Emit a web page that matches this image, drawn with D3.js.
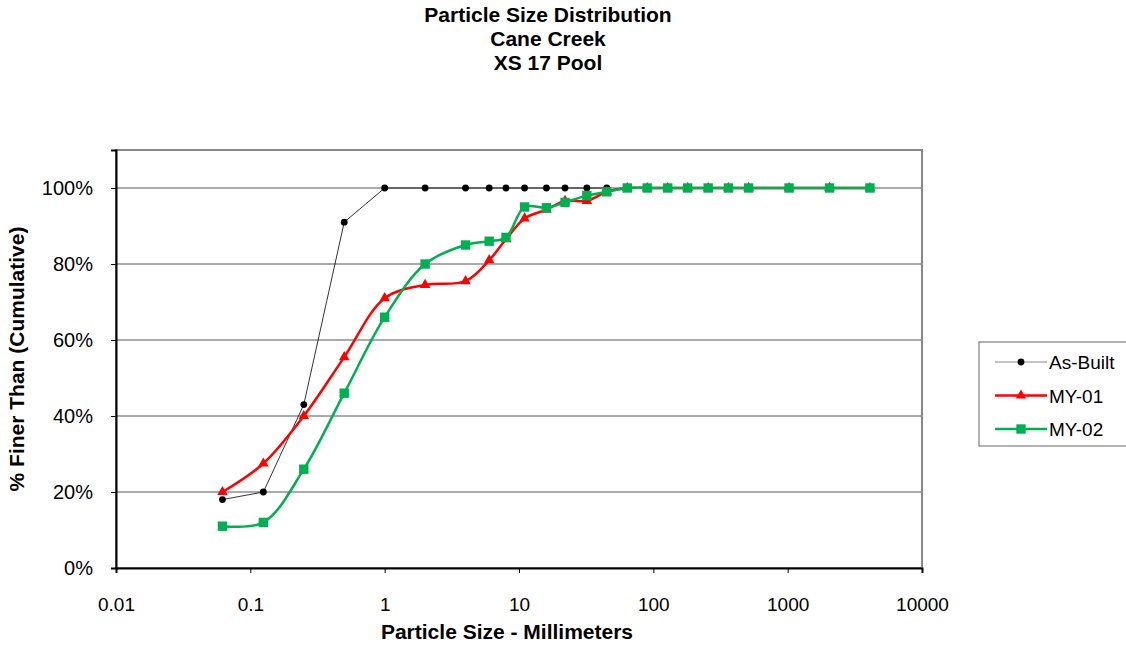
<!DOCTYPE html>
<html>
<head>
<meta charset="utf-8">
<script src="https://cdn.jsdelivr.net/npm/d3@7"></script>
<style>
  html, body { margin: 0; padding: 0; background: #fff; }
  svg { display: block; font-family: "Liberation Sans", Arial, sans-serif; }
</style>
</head>
<body>
<svg id="chart" width="1126" height="653"></svg>
<script>
// ---- Data ----
const titleLines = ["Particle Size Distribution", "Cane Creek", "XS 17 Pool"];
const xTicks = [0.01, 0.1, 1, 10, 100, 1000, 10000];
const yTicks = [0, 0.2, 0.4, 0.6, 0.8, 1.0];

const asBuiltSizes = [0.062, 0.125, 0.25, 0.5, 1, 2, 4, 6, 8, 11, 16, 22, 32, 45];
const asBuiltValues = [0.18, 0.20, 0.43, 0.91, 1.00, 1.00, 1.00, 1.00, 1.00, 1.00, 1.00, 1.00, 1.00, 1.00];

const sizes = [0.062, 0.125, 0.25, 0.5, 1, 2, 4, 6, 8, 11, 16, 22, 32, 45, 64, 90, 128, 180, 256, 362, 512, 1024, 2048, 4096];
const my01Values = [0.20, 0.275, 0.40, 0.555, 0.71, 0.745, 0.755, 0.81, 0.865, 0.92, 0.943, 0.966, 0.966, 0.99, 1, 1, 1, 1, 1, 1, 1, 1, 1, 1];
const my02Values = [0.11, 0.12, 0.26, 0.46, 0.66, 0.80, 0.85, 0.86, 0.87, 0.95, 0.948, 0.962, 0.98, 0.99, 1, 1, 1, 1, 1, 1, 1, 1, 1, 1];

const seriesNames = ["As-Built", "MY-01", "MY-02"];

// ---- Layout ----
const svg = d3.select("#chart");
const L = 116, R = 922, T = 150, B = 568;

const x = d3.scaleLog().domain([0.01, 10000]).range([L, R]);
const y = d3.scaleLinear().domain([0, 1.1]).range([B, T]);

// Title
svg.append("g").selectAll("text").data(titleLines).join("text")
  .attr("x", 548).attr("y", (d, i) => 22 + i * 24)
  .attr("text-anchor", "middle").attr("font-weight", "bold").attr("font-size", 21)
  .text(d => d);

// Gridlines
svg.append("g").selectAll("line").data(yTicks.filter(d => d > 0)).join("line")
  .attr("x1", L).attr("x2", R).attr("y1", d => y(d)).attr("y2", d => y(d))
  .attr("stroke", "#555").attr("stroke-width", 1);

// Plot border (top/right gray)
svg.append("rect").attr("x", L).attr("y", T).attr("width", R - L).attr("height", B - T)
  .attr("fill", "none").attr("stroke", "#888").attr("stroke-width", 2);

// Axes
const xAxis = d3.axisBottom(x).tickValues(xTicks).tickSize(5).tickPadding(25)
  .tickFormat(d => String(d));
const gx = svg.append("g").attr("transform", `translate(0,${B})`).call(xAxis);
gx.select(".domain").attr("stroke", "#000").attr("stroke-width", 2);
gx.selectAll(".tick line").attr("stroke", "#000");
gx.selectAll("text").attr("font-size", 19).attr("font-family", "Liberation Sans, Arial, sans-serif").attr("fill", "#000");

const yAxis = d3.axisLeft(y).tickValues(yTicks).tickSize(5).tickPadding(18)
  .tickFormat(d3.format(".0%"));
const gy = svg.append("g").attr("transform", `translate(${L},0)`).call(yAxis);
gy.select(".domain").attr("stroke", "#000").attr("stroke-width", 2);
gy.selectAll(".tick line").attr("stroke", "#000");
gy.selectAll("text").attr("font-size", 20).attr("font-family", "Liberation Sans, Arial, sans-serif").attr("fill", "#000");

// Axis titles
svg.append("text").attr("x", 507).attr("y", 639).attr("text-anchor", "middle")
  .attr("font-weight", "bold").attr("font-size", 21).text("Particle Size - Millimeters");
svg.append("text").attr("transform", `translate(24,${(T + B) / 2}) rotate(-90)`)
  .attr("text-anchor", "middle").attr("font-weight", "bold").attr("font-size", 21)
  .text("% Finer Than (Cumulative)");

// Series
const asBuilt = asBuiltSizes.map((s, i) => ({ s, v: asBuiltValues[i] }));
const my01 = sizes.map((s, i) => ({ s, v: my01Values[i] }));
const my02 = sizes.map((s, i) => ({ s, v: my02Values[i] }));

const straight = d3.line().x(d => x(d.s)).y(d => y(d.v));
const smooth = d3.line().x(d => x(d.s)).y(d => y(d.v)).curve(d3.curveCatmullRom.alpha(0.5));

const red = "#ff0000", green = "#00b050";

// As-Built
svg.append("path").datum(asBuilt).attr("d", straight).attr("fill", "none").attr("stroke", "#000").attr("stroke-width", 0.8);
svg.append("g").selectAll("circle").data(asBuilt).join("circle")
  .attr("cx", d => x(d.s)).attr("cy", d => y(d.v)).attr("r", 3.4).attr("fill", "#000");

// MY-01
svg.append("path").datum(my01).attr("d", smooth).attr("fill", "none").attr("stroke", red).attr("stroke-width", 2.5);
const tri = d3.symbol().type(d3.symbolTriangle).size(48);
svg.append("g").selectAll("path").data(my01).join("path")
  .attr("transform", d => `translate(${x(d.s)},${y(d.v)})`).attr("d", tri).attr("fill", red);

// MY-02
svg.append("path").datum(my02).attr("d", smooth).attr("fill", "none").attr("stroke", green).attr("stroke-width", 2.5);
svg.append("g").selectAll("rect").data(my02).join("rect")
  .attr("x", d => x(d.s) - 4.7).attr("y", d => y(d.v) - 4.7).attr("width", 9.4).attr("height", 9.4).attr("fill", green);

// Legend
const lg = svg.append("g");
lg.append("rect").attr("x", 979).attr("y", 342).attr("width", 150).attr("height", 104)
  .attr("fill", "#fff").attr("stroke", "#666").attr("stroke-width", 1);
const legRows = [
  { name: seriesNames[0], color: "#000", lineColor: "#888", w: 1, mark: "circle" },
  { name: seriesNames[1], color: red, lineColor: red, w: 2.5, mark: "tri" },
  { name: seriesNames[2], color: green, lineColor: green, w: 2.5, mark: "sq" }
];
legRows.forEach((r, i) => {
  const yy = 362 + i * 33.5;
  lg.append("line").attr("x1", 995).attr("x2", 1047).attr("y1", yy).attr("y2", yy)
    .attr("stroke", r.lineColor).attr("stroke-width", r.w);
  if (r.mark === "circle") lg.append("circle").attr("cx", 1021).attr("cy", yy).attr("r", 3.4).attr("fill", r.color);
  if (r.mark === "tri") lg.append("path").attr("transform", `translate(1021,${yy})`).attr("d", tri).attr("fill", r.color);
  if (r.mark === "sq") lg.append("rect").attr("x", 1016.3).attr("y", yy - 4.7).attr("width", 9.4).attr("height", 9.4).attr("fill", r.color);
  lg.append("text").attr("x", 1049).attr("y", yy + 7).attr("font-size", 19).text(r.name);
});
</script>
</body>
</html>
